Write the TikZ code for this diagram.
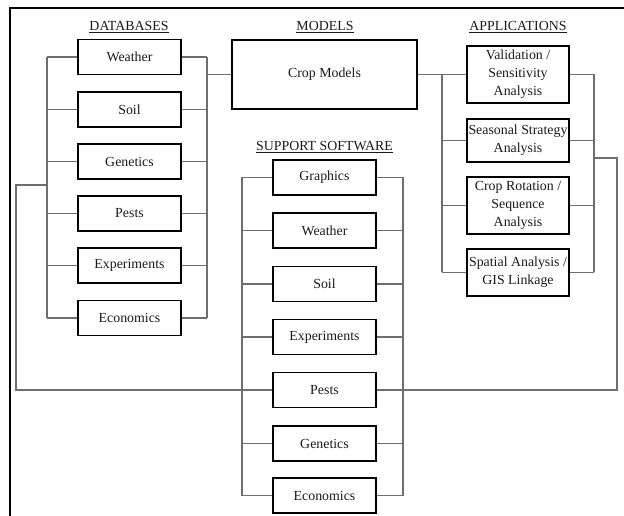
\documentclass[tikz,border=0pt]{standalone}
\usepackage{fontspec}
\setmainfont{Liberation Serif}
\usepackage{tikz}
\usetikzlibrary{calc}
\definecolor{cswire}{HTML}{6E6E6E}
\definecolor{csink}{HTML}{1A1A1A}

\tikzset{
  csbox/.style={draw=black, line width=1.4pt, inner sep=0pt, align=center,
    minimum width=77.25pt, minimum height=26.25pt, text=csink},
  cshead/.style={inner sep=0pt, text=csink},
  cswire/.style={draw=cswire, line width=0.8pt}
}

\begin{document}
\begin{tikzpicture}[x=0.75pt, y=-0.75pt, font=\fontsize{10.4}{13.5}\selectfont]
    \useasboundingbox (0,0) rectangle (624,516);
    \draw[line width=2pt] (10,516) -- (10,8) -- (624,8);

    \node[cshead] (dbhead) at (129,27) {\underline{DATABASES}};
    \node[cshead] (mdhead) at (325,27) {\underline{MODELS}};
    \node[cshead] (aphead) at (518,27) {\underline{APPLICATIONS}};
    \node[cshead] (swhead) at (324.5,147) {\underline{SUPPORT SOFTWARE}};

    \node[csbox] (dbweather) at (129.5,57)    {Weather};
    \node[csbox] (dbsoil)    at (129.5,109.5) {Soil};
    \node[csbox] (dbgenet)   at (129.5,161.5) {Genetics};
    \node[csbox] (dbpests)   at (129.5,213.5) {Pests};
    \node[csbox] (dbexper)   at (129.5,265.5) {Experiments};
    \node[csbox] (dbecon)    at (129.5,318)   {Economics};

    \node[csbox, minimum width=138.75pt, minimum height=51.75pt] (crop) at (324.5,74.5) {Crop Models};

    \node[csbox, minimum width=76.5pt, minimum height=42.75pt] (valid)    at (518,74.5)
      {Validation /\\Sensitivity\\Analysis};
    \node[csbox, minimum width=76.5pt, minimum height=32.25pt] (seasonal) at (518,140.5)
      {Seasonal Strategy\\Analysis};
    \node[csbox, minimum width=76.5pt, minimum height=42.75pt] (rotation) at (518,205.5)
      {Crop Rotation /\\Sequence\\Analysis};
    \node[csbox, minimum width=76.5pt, minimum height=35.25pt] (spatial)  at (518,272.5)
      {Spatial Analysis /\\GIS Linkage};

    \node[csbox] (swgraph)   at (324.5,177.5) {Graphics};
    \node[csbox] (swweather) at (324.5,230.5) {Weather};
    \node[csbox] (swsoil)    at (324.5,284)   {Soil};
    \node[csbox] (swexper)   at (324.5,337)   {Experiments};
    \node[csbox] (swpests)   at (324.5,390)   {Pests};
    \node[csbox] (swgenet)   at (324.5,443.5) {Genetics};
    \node[csbox] (swecon)    at (324.5,495.5) {Economics};

    \coordinate (dbL)  at (47,0);
    \coordinate (dbR)  at (207,0);
    \coordinate (swL)  at (242,0);
    \coordinate (swR)  at (403,0);
    \coordinate (apL)  at (442,0);
    \coordinate (apR)  at (594,0);
    \coordinate (outL) at (16,185);
    \coordinate (outR) at (617,158);

    \draw[cswire] (dbweather.west -| dbL) -- (dbweather.west) (dbweather.east) -- (dbweather.east -| dbR);
    \draw[cswire] (dbsoil.west -| dbL) -- (dbsoil.west) (dbsoil.east) -- (dbsoil.east -| dbR);
    \draw[cswire] (dbgenet.west -| dbL) -- (dbgenet.west) (dbgenet.east) -- (dbgenet.east -| dbR);
    \draw[cswire] (dbpests.west -| dbL) -- (dbpests.west) (dbpests.east) -- (dbpests.east -| dbR);
    \draw[cswire] (dbexper.west -| dbL) -- (dbexper.west) (dbexper.east) -- (dbexper.east -| dbR);
    \draw[cswire] (dbecon.west -| dbL) -- (dbecon.west) (dbecon.east) -- (dbecon.east -| dbR);
    \draw[cswire] (dbweather.west -| dbL) -- (dbecon.west -| dbL);
    \draw[cswire] (dbweather.east -| dbR) -- (dbecon.east -| dbR);
    \draw[cswire] (crop.west -| dbR) -- (crop.west);

    \draw[cswire] (crop.east) -- (valid.west);
    \draw[cswire] (seasonal.west -| apL) -- (seasonal.west);
    \draw[cswire] (rotation.west -| apL) -- (rotation.west);
    \draw[cswire] (spatial.west -| apL) -- (spatial.west);
    \draw[cswire] (valid.west -| apL) -- (spatial.west -| apL);
    \draw[cswire] (valid.east) -- (valid.east -| apR);
    \draw[cswire] (seasonal.east) -- (seasonal.east -| apR);
    \draw[cswire] (rotation.east) -- (rotation.east -| apR);
    \draw[cswire] (spatial.east) -- (spatial.east -| apR);
    \draw[cswire] (valid.east -| apR) -- (spatial.east -| apR);

    \draw[cswire] (swgraph.west -| swL) -- (swgraph.west) (swgraph.east) -- (swgraph.east -| swR);
    \draw[cswire] (swweather.west -| swL) -- (swweather.west) (swweather.east) -- (swweather.east -| swR);
    \draw[cswire] (swsoil.west -| swL) -- (swsoil.west) (swsoil.east) -- (swsoil.east -| swR);
    \draw[cswire] (swexper.west -| swL) -- (swexper.west) (swexper.east) -- (swexper.east -| swR);
    \draw[cswire] (swgenet.west -| swL) -- (swgenet.west) (swgenet.east) -- (swgenet.east -| swR);
    \draw[cswire] (swecon.west -| swL) -- (swecon.west) (swecon.east) -- (swecon.east -| swR);
    \draw[cswire] (swgraph.west -| swL) -- (swecon.west -| swL);
    \draw[cswire] (swgraph.east -| swR) -- (swecon.east -| swR);

    \draw[cswire] (outL -| dbL) -- (outL) |- (swpests.west);
    \draw[cswire] (outR -| apR) -- (outR) |- (swpests.east);
\end{tikzpicture}
\end{document}
